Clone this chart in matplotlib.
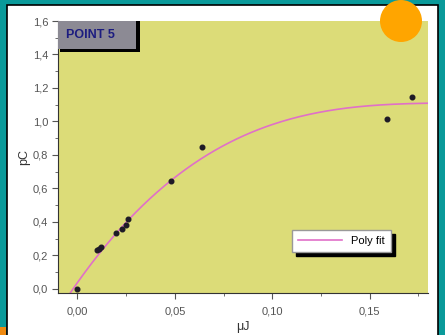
import numpy as np
import matplotlib.pyplot as plt
from matplotlib.patches import Rectangle, Ellipse

plt.rcParams['font.family'] = ['Liberation Sans', 'DejaVu Sans']

# energy (uJ) vs charge (pC)
energy = [0.000, 0.010, 0.011, 0.012, 0.020, 0.023, 0.025, 0.026, 0.048, 0.064, 0.159, 0.172]
charge = [0.00, 0.23, 0.24, 0.25, 0.335, 0.36, 0.38, 0.42, 0.645, 0.846, 1.016, 1.144]

# samples along the polynomial fit curve
fit_x = [-0.0036, 0.0058, 0.023, 0.0478, 0.0632, 0.089, 0.1146, 0.140, 0.166, 0.181]
fit_y = [-0.036, 0.154, 0.363, 0.633, 0.784, 0.934, 1.032, 1.082, 1.100, 1.112]

xticks = [0.00, 0.05, 0.10, 0.15]
yticks = [0.0, 0.2, 0.4, 0.6, 0.8, 1.0, 1.2, 1.4, 1.6]

fig = plt.figure(figsize=(4.45, 3.35), dpi=100)
fig.patch.set_facecolor('#0a9a9a')

# white panel inside the teal border
fig.patches.append(Rectangle((7 / 445, -0.05), 431 / 445, 1 - 5 / 335 + 0.05,
                             transform=fig.transFigure, facecolor='white',
                             edgecolor='black', linewidth=1.2, zorder=-2))
fig.patches.append(Rectangle((0, 0), 6 / 445, 8 / 335, transform=fig.transFigure,
                             facecolor='#f08a10', edgecolor='none', zorder=-1))

ax = fig.add_axes([58 / 445, 42 / 335, 370 / 445, 272 / 335])
ax.set_facecolor('#dcdc78')

coef = np.polyfit(fit_x, fit_y, 3)
xf = np.linspace(fit_x[0], fit_x[-1], 200)
ax.plot(xf, np.polyval(coef, xf), color='#e070c8', lw=1.2, label='Poly fit', zorder=2)
ax.scatter(energy, charge, s=11, color='#1e1a26', zorder=3)

ax.set_xlim(-0.01, 0.18)
ax.set_ylim(-0.025, 1.6)
ax.set_xticks(xticks)
ax.set_xticklabels([f'{v:.2f}'.replace('.', ',') for v in xticks])
ax.set_yticks(yticks)
ax.set_yticklabels([f'{v:.1f}'.replace('.', ',') for v in yticks])
ax.set_xticks([0.025, 0.075, 0.125, 0.175], minor=True)
ax.set_yticks(np.arange(0.1, 1.6, 0.2), minor=True)
ax.tick_params(axis='both', which='major', labelsize=8, colors='#555555',
               length=4, direction='out', pad=3)
ax.tick_params(axis='both', which='minor', colors='#555555', length=2, direction='out')
ax.tick_params(axis='x', which='major', pad=6)
for s in ['top', 'right']:
    ax.spines[s].set_visible(False)
for s in ['left', 'bottom']:
    ax.spines[s].set_color('#333333')
    ax.spines[s].set_linewidth(0.8)

ax.set_xlabel('μJ', fontsize=9, color='#333333', labelpad=3)
ax.set_ylabel('pC', fontsize=9, color='#333333')
ax.yaxis.set_label_coords(-0.075, 0.5)

leg = ax.legend(loc='lower right', bbox_to_anchor=(0.915, 0.13), fontsize=8,
                fancybox=False, framealpha=1, edgecolor='#999999',
                shadow={'color': 'black', 'alpha': 1, 'ox': 3, 'oy': -3},
                handlelength=4.0, borderpad=0.55)
leg.get_frame().set_facecolor('white')

# title tag in the top-left corner
ax.add_patch(Rectangle((0.006, 0.886), 0.216, 0.114, transform=ax.transAxes,
                       facecolor='black', edgecolor='none', zorder=4, clip_on=False))
ax.add_patch(Rectangle((0.0, 0.896), 0.212, 0.104, transform=ax.transAxes,
                       facecolor='#8c8a94', edgecolor='none', zorder=4, clip_on=False))
ax.text(0.022, 0.95, 'POINT 5', transform=ax.transAxes, fontsize=9,
        fontweight='bold', color='#1c1c80', va='center', ha='left', zorder=5)

fig.patches.append(Ellipse((401 / 445, 1 - 21 / 335), 42 / 445, 42 / 335,
                           transform=fig.transFigure, facecolor='#ffa500',
                           edgecolor='none', zorder=5))

fig.savefig('out.png', dpi=100)
